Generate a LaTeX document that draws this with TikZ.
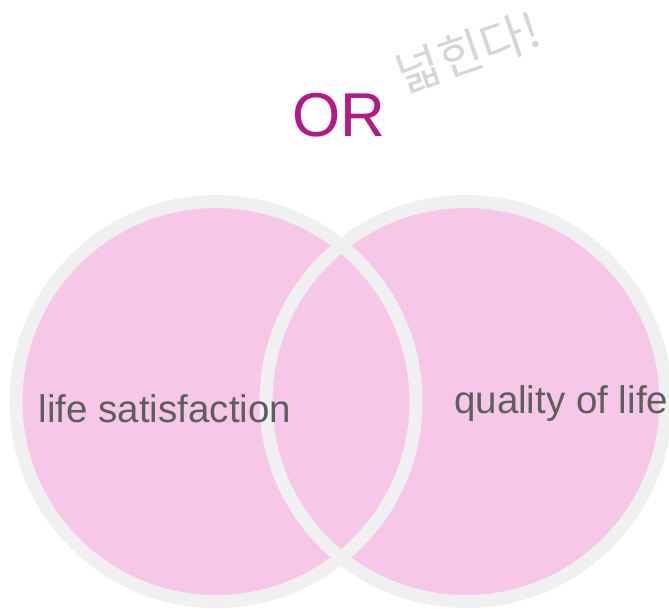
\documentclass[tikz,border=0pt]{standalone}
\usepackage{fontspec}
\setmainfont{Liberation Sans}
\newfontfamily\krfont{Noto Sans CJK KR}
\definecolor{pinkfill}{HTML}{F6C7E8}
\definecolor{ringgray}{HTML}{F0F0F0}
\definecolor{labelgray}{HTML}{5E5E5E}
\definecolor{ormag}{HTML}{B21A85}
\definecolor{notegray}{HTML}{D6D6D6}
\tikzset{
  blob/.style={circle, minimum size=400pt, inner sep=0pt, fill=pinkfill},
  ring/.style={draw=ringgray, line width=13pt},
  lbl/.style={inner sep=0pt, text=labelgray, font=\fontsize{38.5}{44}\selectfont},
}
\begin{document}
\begin{tikzpicture}[x=1pt,y=-1pt]
\useasboundingbox (0,0) rectangle (669,609);
\node[blob] (L) at (216,401.5) {};
\node[blob] (R) at (466,401.5) {};
\draw[ring] (L.center) circle[radius=200pt];
\draw[ring] (R.center) circle[radius=200pt];
\node[lbl, anchor=base west] (ls) at (38.5,422) {life satisfaction};
\node[lbl, anchor=base west] (ql) at (454,413) {quality of life};
\node[inner sep=0pt, anchor=base, text=ormag, font=\fontsize{62}{70}\selectfont] (or) at (339,137) {OR};
\node[inner sep=0pt, text=notegray, rotate=19, font=\krfont\fontsize{48}{52}\selectfont] (note) at (468,52) {넓힌다!};
\end{tikzpicture}
\end{document}
